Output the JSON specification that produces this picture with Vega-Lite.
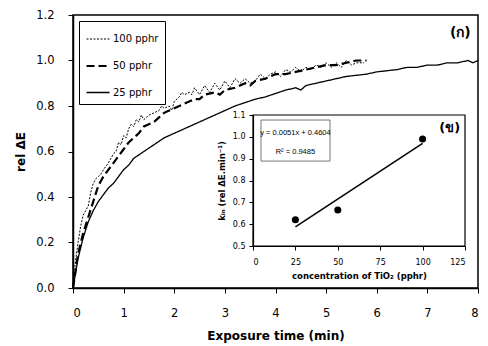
{
  "$schema": "https://vega.github.io/schema/vega-lite/v6.json",
  "width": 405,
  "height": 273,
  "autosize": {"type": "none"},
  "padding": {"left": 73, "top": 15, "right": 10, "bottom": 58},
  "background": "white",
  "config": {
    "view": {"stroke": "black", "strokeWidth": 1.5},
    "font": "DejaVu Sans",
    "axis": {"domainColor": "black", "tickColor": "black", "labelColor": "black", "titleColor": "black", "grid": false},
    "legend": {"orient": "top-left", "offset": 6, "padding": 6, "strokeColor": "black", "symbolType": "stroke", "symbolSize": 529, "labelFontSize": 10, "labelFont": "DejaVu Sans", "rowPadding": 9, "labelOffset": 2, "symbolStrokeColor": "black"}
  },
  "datasets": {
    "curves": [
      {"t": 0, "v": 0, "s": "100 pphr"}, {"t": 0.05, "v": 0.12, "s": "100 pphr"}, {"t": 0.1, "v": 0.2, "s": "100 pphr"}, {"t": 0.15, "v": 0.27, "s": "100 pphr"}, {"t": 0.2, "v": 0.32, "s": "100 pphr"}, {"t": 0.25, "v": 0.34, "s": "100 pphr"}, {"t": 0.3, "v": 0.36, "s": "100 pphr"}, {"t": 0.35, "v": 0.42, "s": "100 pphr"}, {"t": 0.4, "v": 0.46, "s": "100 pphr"}, {"t": 0.45, "v": 0.48, "s": "100 pphr"}, {"t": 0.5, "v": 0.49, "s": "100 pphr"}, {"t": 0.55, "v": 0.5, "s": "100 pphr"}, {"t": 0.6, "v": 0.52, "s": "100 pphr"}, {"t": 0.7, "v": 0.55, "s": "100 pphr"}, {"t": 0.8, "v": 0.59, "s": "100 pphr"}, {"t": 0.85, "v": 0.6, "s": "100 pphr"}, {"t": 0.9, "v": 0.64, "s": "100 pphr"}, {"t": 0.95, "v": 0.63, "s": "100 pphr"}, {"t": 1.0, "v": 0.67, "s": "100 pphr"}, {"t": 1.05, "v": 0.66, "s": "100 pphr"}, {"t": 1.1, "v": 0.7, "s": "100 pphr"}, {"t": 1.15, "v": 0.72, "s": "100 pphr"}, {"t": 1.2, "v": 0.71, "s": "100 pphr"}, {"t": 1.25, "v": 0.74, "s": "100 pphr"}, {"t": 1.3, "v": 0.73, "s": "100 pphr"}, {"t": 1.35, "v": 0.76, "s": "100 pphr"}, {"t": 1.4, "v": 0.74, "s": "100 pphr"}, {"t": 1.5, "v": 0.76, "s": "100 pphr"}, {"t": 1.6, "v": 0.77, "s": "100 pphr"}, {"t": 1.7, "v": 0.78, "s": "100 pphr"}, {"t": 1.75, "v": 0.8, "s": "100 pphr"}, {"t": 1.8, "v": 0.79, "s": "100 pphr"}, {"t": 1.9, "v": 0.8, "s": "100 pphr"}, {"t": 1.95, "v": 0.78, "s": "100 pphr"}, {"t": 2.0, "v": 0.82, "s": "100 pphr"}, {"t": 2.1, "v": 0.84, "s": "100 pphr"}, {"t": 2.15, "v": 0.86, "s": "100 pphr"}, {"t": 2.2, "v": 0.85, "s": "100 pphr"}, {"t": 2.3, "v": 0.86, "s": "100 pphr"}, {"t": 2.35, "v": 0.85, "s": "100 pphr"}, {"t": 2.4, "v": 0.88, "s": "100 pphr"}, {"t": 2.5, "v": 0.85, "s": "100 pphr"}, {"t": 2.6, "v": 0.89, "s": "100 pphr"}, {"t": 2.7, "v": 0.86, "s": "100 pphr"}, {"t": 2.8, "v": 0.9, "s": "100 pphr"}, {"t": 2.9, "v": 0.87, "s": "100 pphr"}, {"t": 3.0, "v": 0.91, "s": "100 pphr"}, {"t": 3.1, "v": 0.88, "s": "100 pphr"}, {"t": 3.2, "v": 0.92, "s": "100 pphr"}, {"t": 3.3, "v": 0.9, "s": "100 pphr"}, {"t": 3.4, "v": 0.92, "s": "100 pphr"}, {"t": 3.5, "v": 0.9, "s": "100 pphr"}, {"t": 3.6, "v": 0.91, "s": "100 pphr"}, {"t": 3.7, "v": 0.94, "s": "100 pphr"}, {"t": 3.8, "v": 0.92, "s": "100 pphr"}, {"t": 3.9, "v": 0.94, "s": "100 pphr"}, {"t": 4.0, "v": 0.95, "s": "100 pphr"}, {"t": 4.1, "v": 0.93, "s": "100 pphr"}, {"t": 4.2, "v": 0.96, "s": "100 pphr"}, {"t": 4.3, "v": 0.95, "s": "100 pphr"}, {"t": 4.4, "v": 0.97, "s": "100 pphr"}, {"t": 4.5, "v": 0.95, "s": "100 pphr"}, {"t": 4.6, "v": 0.97, "s": "100 pphr"}, {"t": 4.7, "v": 0.96, "s": "100 pphr"}, {"t": 4.8, "v": 0.98, "s": "100 pphr"}, {"t": 4.9, "v": 0.97, "s": "100 pphr"}, {"t": 5.0, "v": 0.99, "s": "100 pphr"}, {"t": 5.1, "v": 0.97, "s": "100 pphr"}, {"t": 5.2, "v": 0.99, "s": "100 pphr"}, {"t": 5.3, "v": 0.97, "s": "100 pphr"}, {"t": 5.4, "v": 1.0, "s": "100 pphr"}, {"t": 5.5, "v": 0.98, "s": "100 pphr"}, {"t": 5.6, "v": 0.99, "s": "100 pphr"}, {"t": 5.75, "v": 0.99, "s": "100 pphr"},
      {"t": 0, "v": 0, "s": "50 pphr"}, {"t": 0.1, "v": 0.15, "s": "50 pphr"}, {"t": 0.2, "v": 0.24, "s": "50 pphr"}, {"t": 0.3, "v": 0.31, "s": "50 pphr"}, {"t": 0.4, "v": 0.38, "s": "50 pphr"}, {"t": 0.5, "v": 0.45, "s": "50 pphr"}, {"t": 0.6, "v": 0.49, "s": "50 pphr"}, {"t": 0.7, "v": 0.52, "s": "50 pphr"}, {"t": 0.8, "v": 0.55, "s": "50 pphr"}, {"t": 0.9, "v": 0.58, "s": "50 pphr"}, {"t": 1.0, "v": 0.61, "s": "50 pphr"}, {"t": 1.1, "v": 0.64, "s": "50 pphr"}, {"t": 1.2, "v": 0.66, "s": "50 pphr"}, {"t": 1.3, "v": 0.68, "s": "50 pphr"}, {"t": 1.4, "v": 0.71, "s": "50 pphr"}, {"t": 1.5, "v": 0.72, "s": "50 pphr"}, {"t": 1.6, "v": 0.73, "s": "50 pphr"}, {"t": 1.7, "v": 0.75, "s": "50 pphr"}, {"t": 1.8, "v": 0.77, "s": "50 pphr"}, {"t": 1.9, "v": 0.78, "s": "50 pphr"}, {"t": 2.0, "v": 0.79, "s": "50 pphr"}, {"t": 2.2, "v": 0.81, "s": "50 pphr"}, {"t": 2.4, "v": 0.83, "s": "50 pphr"}, {"t": 2.5, "v": 0.83, "s": "50 pphr"}, {"t": 2.6, "v": 0.85, "s": "50 pphr"}, {"t": 2.8, "v": 0.86, "s": "50 pphr"}, {"t": 2.9, "v": 0.85, "s": "50 pphr"}, {"t": 3.0, "v": 0.87, "s": "50 pphr"}, {"t": 3.2, "v": 0.88, "s": "50 pphr"}, {"t": 3.4, "v": 0.9, "s": "50 pphr"}, {"t": 3.5, "v": 0.89, "s": "50 pphr"}, {"t": 3.6, "v": 0.91, "s": "50 pphr"}, {"t": 3.8, "v": 0.92, "s": "50 pphr"}, {"t": 4.0, "v": 0.94, "s": "50 pphr"}, {"t": 4.2, "v": 0.94, "s": "50 pphr"}, {"t": 4.4, "v": 0.95, "s": "50 pphr"}, {"t": 4.6, "v": 0.96, "s": "50 pphr"}, {"t": 4.8, "v": 0.97, "s": "50 pphr"}, {"t": 5.0, "v": 0.98, "s": "50 pphr"}, {"t": 5.2, "v": 0.98, "s": "50 pphr"}, {"t": 5.4, "v": 0.99, "s": "50 pphr"}, {"t": 5.6, "v": 1.0, "s": "50 pphr"}, {"t": 5.8, "v": 1.0, "s": "50 pphr"},
      {"t": 0, "v": 0, "s": "25 pphr"}, {"t": 0.1, "v": 0.13, "s": "25 pphr"}, {"t": 0.2, "v": 0.22, "s": "25 pphr"}, {"t": 0.3, "v": 0.29, "s": "25 pphr"}, {"t": 0.4, "v": 0.34, "s": "25 pphr"}, {"t": 0.5, "v": 0.38, "s": "25 pphr"}, {"t": 0.6, "v": 0.41, "s": "25 pphr"}, {"t": 0.7, "v": 0.44, "s": "25 pphr"}, {"t": 0.8, "v": 0.46, "s": "25 pphr"}, {"t": 0.9, "v": 0.49, "s": "25 pphr"}, {"t": 1.0, "v": 0.52, "s": "25 pphr"}, {"t": 1.1, "v": 0.54, "s": "25 pphr"}, {"t": 1.2, "v": 0.57, "s": "25 pphr"}, {"t": 1.4, "v": 0.6, "s": "25 pphr"}, {"t": 1.6, "v": 0.63, "s": "25 pphr"}, {"t": 1.8, "v": 0.66, "s": "25 pphr"}, {"t": 2.0, "v": 0.68, "s": "25 pphr"}, {"t": 2.2, "v": 0.7, "s": "25 pphr"}, {"t": 2.4, "v": 0.72, "s": "25 pphr"}, {"t": 2.6, "v": 0.74, "s": "25 pphr"}, {"t": 2.8, "v": 0.76, "s": "25 pphr"}, {"t": 3.0, "v": 0.78, "s": "25 pphr"}, {"t": 3.2, "v": 0.8, "s": "25 pphr"}, {"t": 3.4, "v": 0.815, "s": "25 pphr"}, {"t": 3.6, "v": 0.83, "s": "25 pphr"}, {"t": 3.8, "v": 0.84, "s": "25 pphr"}, {"t": 4.0, "v": 0.855, "s": "25 pphr"}, {"t": 4.2, "v": 0.87, "s": "25 pphr"}, {"t": 4.4, "v": 0.88, "s": "25 pphr"}, {"t": 4.5, "v": 0.87, "s": "25 pphr"}, {"t": 4.6, "v": 0.89, "s": "25 pphr"}, {"t": 4.8, "v": 0.9, "s": "25 pphr"}, {"t": 5.0, "v": 0.91, "s": "25 pphr"}, {"t": 5.2, "v": 0.92, "s": "25 pphr"}, {"t": 5.4, "v": 0.93, "s": "25 pphr"}, {"t": 5.6, "v": 0.935, "s": "25 pphr"}, {"t": 5.8, "v": 0.94, "s": "25 pphr"}, {"t": 6.0, "v": 0.95, "s": "25 pphr"}, {"t": 6.2, "v": 0.955, "s": "25 pphr"}, {"t": 6.4, "v": 0.96, "s": "25 pphr"}, {"t": 6.6, "v": 0.97, "s": "25 pphr"}, {"t": 6.8, "v": 0.97, "s": "25 pphr"}, {"t": 7.0, "v": 0.98, "s": "25 pphr"}, {"t": 7.2, "v": 0.98, "s": "25 pphr"}, {"t": 7.4, "v": 0.99, "s": "25 pphr"}, {"t": 7.6, "v": 0.99, "s": "25 pphr"}, {"t": 7.8, "v": 1.0, "s": "25 pphr"}, {"t": 7.9, "v": 0.99, "s": "25 pphr"}, {"t": 8.0, "v": 1.0, "s": "25 pphr"}
    ],
    "kin": [
      {"c": 25, "k": 0.62}, {"c": 50, "k": 0.665}, {"c": 100, "k": 0.99}
    ],
    "fit": [
      {"c": 25, "k": 0.588}, {"c": 100, "k": 0.970}
    ]
  },
  "layer": [
    {
      "layer": [
        {
          "data": {"name": "curves"},
          "mark": {"type": "line", "color": "black"},
          "encoding": {
            "x": {"field": "t", "type": "quantitative", "scale": {"domain": [0, 8], "nice": false},
              "axis": {"orient": "bottom", "values": [0, 1, 2, 3, 4, 5, 6, 7, 8], "title": "Exposure time (min)", "titleFontSize": 12, "titleFontWeight": "bold", "labelFontSize": 11.5, "tickSize": 5, "labelPadding": 14, "titlePadding": 12, "domainWidth": 1.5, "tickWidth": 1}},
            "y": {"field": "v", "type": "quantitative", "scale": {"domain": [0, 1.2], "nice": false},
              "axis": {"orient": "left", "values": [0, 0.2, 0.4, 0.6, 0.8, 1.0, 1.2], "format": ".1f", "title": "rel ΔE", "titleFontSize": 12, "titleFontWeight": "bold", "labelFontSize": 11.5, "tickSize": 5, "labelPadding": 14, "titlePadding": 8, "domainWidth": 1.5}},
            "strokeDash": {"field": "s", "type": "nominal", "sort": ["100 pphr", "50 pphr", "25 pphr"], "scale": {"domain": ["100 pphr", "50 pphr", "25 pphr"], "range": [[2, 1.5], [8, 4], [1, 0]]}, "legend": {"title": null}},
            "strokeWidth": {"field": "s", "type": "nominal", "sort": ["100 pphr", "50 pphr", "25 pphr"], "scale": {"type": "ordinal", "domain": ["100 pphr", "50 pphr", "25 pphr"], "range": [1, 2.2, 1.3]}, "legend": {"title": null}},
            "detail": {"field": "s", "type": "nominal"}
          }
        },
        {
          "data": {"values": [{"lab": "(ก)"}]},
          "mark": {"type": "text", "fontSize": 14, "fontWeight": "bold", "align": "center", "baseline": "middle"},
          "encoding": {
            "x": {"datum": 7.65, "type": "quantitative"},
            "y": {"datum": 1.12, "type": "quantitative"},
            "text": {"field": "lab"}
          }
        }
      ]
    },
    {
      "layer": [
        {
          "data": {"values": [{}]},
          "mark": {"type": "rect", "fill": "white", "stroke": "black", "strokeWidth": 1.2},
          "encoding": {
            "x": {"datum": 0, "type": "quantitative", "scale": {"domain": [0, 125], "range": [180, 392], "nice": false, "zero": false},
              "axis": {"orient": "bottom", "offset": -42, "values": [0, 25, 50, 75, 100, 125], "title": "concentration of TiO₂ (pphr)", "titleFontSize": 8.5, "titleFontWeight": "bold", "labelFontSize": 8, "tickSize": 4, "labelPadding": 8, "titlePadding": 5, "zindex": 1, "domainWidth": 1.2}},
            "x2": {"datum": 125},
            "y": {"datum": 0.5, "type": "quantitative", "scale": {"domain": [0.5, 1.1], "range": [231, 100], "nice": false, "zero": false},
              "axis": {"orient": "left", "offset": -180, "values": [0.5, 0.6, 0.7, 0.8, 0.9, 1.0, 1.1], "format": ".1f", "title": "kᵢₙ (rel ΔE.min⁻¹)", "titleFontSize": 8.5, "titleFontWeight": "bold", "labelFontSize": 8, "tickSize": 4, "labelPadding": 4, "titlePadding": 6, "zindex": 1, "domainWidth": 1.2}},
            "y2": {"datum": 1.1}
          }
        },
        {
          "data": {"name": "fit"},
          "mark": {"type": "line", "color": "black", "strokeWidth": 1.5},
          "encoding": {
            "x": {"field": "c", "type": "quantitative"},
            "y": {"field": "k", "type": "quantitative"}
          }
        },
        {
          "data": {"name": "kin"},
          "mark": {"type": "point", "filled": true, "color": "black", "opacity": 1, "size": 50},
          "encoding": {
            "x": {"field": "c", "type": "quantitative"},
            "y": {"field": "k", "type": "quantitative"}
          }
        },
        {
          "data": {"values": [{}]},
          "mark": {"type": "rect", "fill": "white", "stroke": "#555", "strokeWidth": 0.8},
          "encoding": {
            "x": {"datum": 4.7, "type": "quantitative"},
            "x2": {"datum": 45.4},
            "y": {"datum": 0.889, "type": "quantitative"},
            "y2": {"datum": 1.077}
          }
        },
        {
          "data": {"values": [{"eq": "y = 0.0051x + 0.4604", "r2": "R² = 0.9485"}]},
          "layer": [
            {
              "mark": {"type": "text", "font": "Liberation Sans", "fontSize": 7.5, "align": "center", "baseline": "middle"},
              "encoding": {"x": {"datum": 25, "type": "quantitative"}, "y": {"datum": 1.018, "type": "quantitative"}, "text": {"field": "eq"}}
            },
            {
              "mark": {"type": "text", "font": "Liberation Sans", "fontSize": 7.5, "align": "center", "baseline": "middle"},
              "encoding": {"x": {"datum": 25, "type": "quantitative"}, "y": {"datum": 0.931, "type": "quantitative"}, "text": {"field": "r2"}}
            }
          ]
        },
        {
          "data": {"values": [{"lab": "(ข)"}]},
          "mark": {"type": "text", "fontSize": 13, "fontWeight": "bold", "align": "center", "baseline": "middle"},
          "encoding": {
            "x": {"datum": 116, "type": "quantitative"},
            "y": {"datum": 1.04, "type": "quantitative"},
            "text": {"field": "lab"}
          }
        }
      ]
    }
  ],
  "resolve": {"scale": {"x": "independent", "y": "independent"}, "axis": {"x": "independent", "y": "independent"}}
}
